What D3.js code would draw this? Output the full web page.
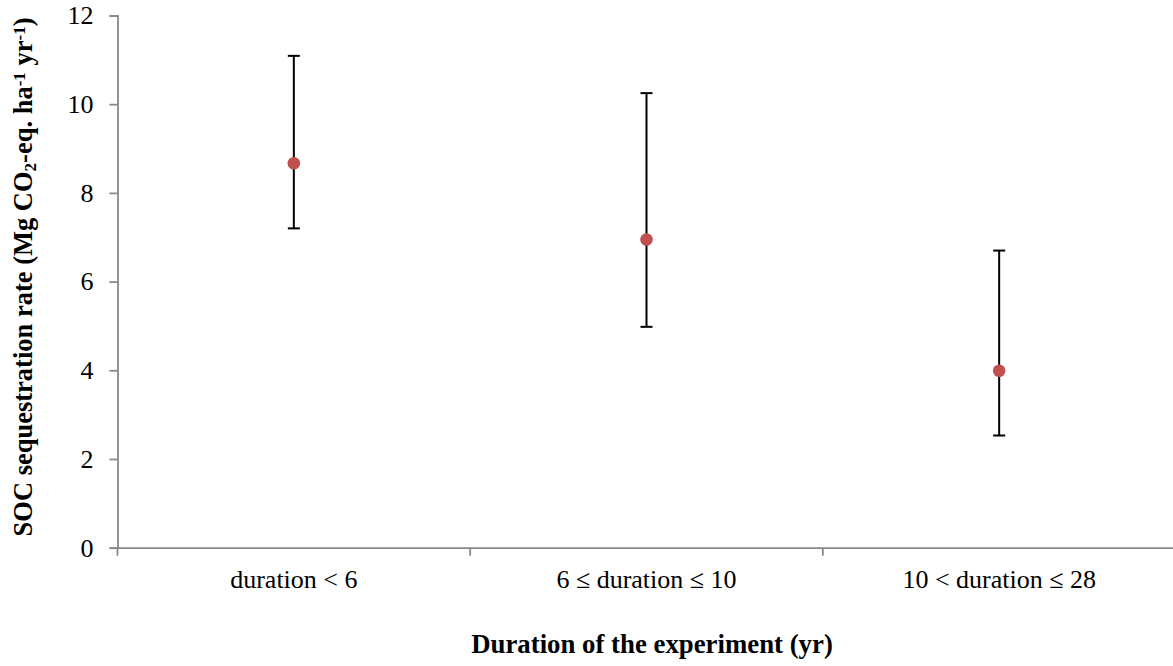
<!DOCTYPE html>
<html>
<head>
<meta charset="utf-8">
<script src="https://cdn.jsdelivr.net/npm/d3@7/dist/d3.min.js"></script>
<style>
  html, body { margin: 0; padding: 0; background: #fff; }
  svg { display: block; }
</style>
</head>
<body>
<svg id="chart" width="1173" height="666"></svg>
<script>
const categories = ["duration < 6", "6 \u2264 duration \u2264 10", "10 < duration \u2264 28"];
const means = [8.67, 6.95, 3.99];
const upper = [11.09, 10.25, 6.70];
const lower = [7.20, 4.98, 2.53];
const yTicks = [0, 2, 4, 6, 8, 10, 12];

const svg = d3.select("#chart");
const font = "'Liberation Serif', 'Times New Roman', serif";
const axisColor = "#898989";

const x = d3.scaleBand().domain(categories).range([117.5, 1175.5]).padding(0);
const y = d3.scaleLinear().domain([0, 12]).range([547.7, 15.5]);

// Y axis
const yAxis = svg.append("g")
  .attr("transform", "translate(117.5,0)")
  .call(d3.axisLeft(y).tickValues(yTicks).tickSize(8).tickPadding(16).tickFormat(d3.format("d")));
yAxis.select(".domain").attr("stroke", axisColor).attr("stroke-width", 1.8);
yAxis.selectAll(".tick line").attr("stroke", axisColor).attr("stroke-width", 1.8);
yAxis.selectAll(".tick text").attr("fill", "#000").style("font-family", font).style("font-size", "26px");

// X axis
const xAxis = svg.append("g")
  .attr("transform", `translate(0,${y(0)})`)
  .call(d3.axisBottom(x).tickSize(0).tickPadding(0));
xAxis.select(".domain").attr("stroke", axisColor).attr("stroke-width", 1.8);
xAxis.selectAll(".tick line").remove();
xAxis.selectAll(".tick text")
  .attr("fill", "#000")
  .attr("dy", null)
  .attr("y", 40)
  .style("font-family", font).style("font-size", "26px");
// boundary tick marks between categories
xAxis.selectAll(".bound")
  .data(categories)
  .enter().append("line")
  .attr("class", "bound")
  .attr("x1", d => x(d)).attr("x2", d => x(d))
  .attr("y1", 0).attr("y2", 8)
  .attr("stroke", axisColor).attr("stroke-width", 1.8);

// Error bars
const cx = d => x(d) + x.bandwidth() / 2;
const g = svg.append("g");
categories.forEach((c, i) => {
  g.append("line")
    .attr("x1", cx(c)).attr("x2", cx(c))
    .attr("y1", y(upper[i])).attr("y2", y(lower[i]))
    .attr("stroke", "#000").attr("stroke-width", 2);
  [upper[i], lower[i]].forEach(v => {
    g.append("line")
      .attr("x1", cx(c) - 6).attr("x2", cx(c) + 6)
      .attr("y1", y(v)).attr("y2", y(v))
      .attr("stroke", "#000").attr("stroke-width", 2);
  });
});

// Points
svg.append("g").selectAll("circle")
  .data(categories)
  .enter().append("circle")
  .attr("cx", d => cx(d))
  .attr("cy", (d, i) => y(means[i]))
  .attr("r", 6.3)
  .attr("fill", "#C0504D");

// Axis titles
const yTitle = svg.append("text")
  .attr("transform", "translate(32,277) rotate(-90)")
  .attr("text-anchor", "middle")
  .style("font-family", font).style("font-size", "26.5px").style("font-weight", "bold")
  .attr("fill", "#000");
yTitle.append("tspan").text("SOC sequestration rate (Mg CO");
yTitle.append("tspan").attr("baseline-shift", "-25%").style("font-size", "17px").text("2");
yTitle.append("tspan").text("-eq. ha");
yTitle.append("tspan").attr("baseline-shift", "40%").style("font-size", "17px").text("-1");
yTitle.append("tspan").text(" yr");
yTitle.append("tspan").attr("baseline-shift", "40%").style("font-size", "17px").text("-1");
yTitle.append("tspan").text(")");

svg.append("text")
  .attr("x", 652).attr("y", 653)
  .attr("text-anchor", "middle")
  .style("font-family", font).style("font-size", "26.8px").style("font-weight", "bold")
  .attr("fill", "#000")
  .text("Duration of the experiment (yr)");
</script>
</body>
</html>
